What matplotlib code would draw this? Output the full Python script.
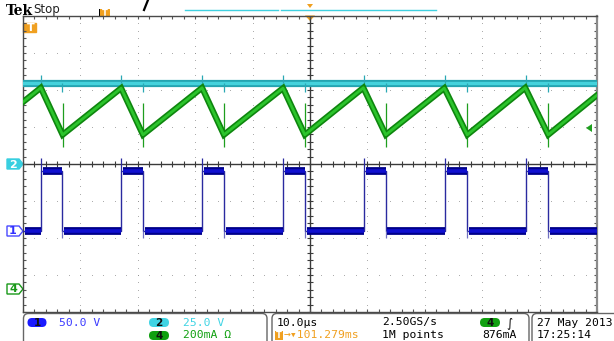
"""
Tek scope capture: switch node (CH1), input voltage (CH2), inductor current (CH4)
"""
import numpy as np
import matplotlib
matplotlib.use("Agg")
import matplotlib.pyplot as plt
from matplotlib.patches import FancyBboxPatch, Polygon, Rectangle

# channel settings: units/div and ground marker offset (div)
CH1_SCALE, CH1_OFFSET = 50.0, -1.8     # V/div
CH2_SCALE, CH2_OFFSET = 25.0, 0.0      # V/div
CH4_SCALE, CH4_OFFSET = 200.0, -3.4    # mA/div
T_SPAN_US = 50.0                       # 10 us/div, 10 div

# CH1 switch node (V)
sw_rise_us = [-46.9, -32.9, -18.8, -4.7, 9.4, 23.5, 37.6]
sw_fall_us = [-43.2, -29.1, -15.0, -0.9, 13.2, 27.4, 41.5]
sw_low_v = 0.0
sw_high_v = 80.0
sw_overshoot_v = 98.0
sw_undershoot_v = -10.0

# CH2 input voltage (V)
vin_v = 54.7
vin_spike_up_v = 60.0
vin_spike_dn_v = 48.6

# CH4 inductor current (mA)
il_t_us = [-50.0, -46.9, -43.1, -32.9, -29.1, -18.8, -15.0, -4.7, -0.9,
           9.3, 13.2, 23.4, 27.4, 37.5, 41.5, 50.0]
il_ma = [1015, 1092, 838, 1090, 838, 1092, 838, 1090, 838,
         1092, 838, 1090, 838, 1092, 838, 1052]
il_spike_hi_ma = 1012
il_spike_lo_ma = 774
trig_level_ma = 876


def to_div(val, scale, offset):
    return offset + np.asarray(val, dtype=float) / scale


def pennant(ax, x0, x1, tip, yc, h, face, edge, label, tcolor, left=False):
    """channel marker flag drawn in pixel coords"""
    if left:
        pts = [(tip, yc), (x0, yc - h / 2), (x1, yc - h / 2), (x1, yc + h / 2), (x0, yc + h / 2)]
    else:
        pts = [(x0, yc - h / 2), (x1, yc - h / 2), (tip, yc), (x1, yc + h / 2), (x0, yc + h / 2)]
    ax.add_patch(Polygon(pts, closed=True, fc=face, ec=edge, lw=1.0))
    cx = (x0 + x1) / 2 + (1.5 if left else 0)
    ax.text(cx, yc + 0.5, label, color=tcolor, fontsize=8, fontweight="bold",
            ha="center", va="center")


fig = plt.figure(figsize=(6.14, 3.41), dpi=100)
fig.patch.set_facecolor("white")

# overlay in pixel units for the scope decorations
ov = fig.add_axes([0, 0, 1, 1], zorder=0)
ov.set_xlim(0, 614)
ov.set_ylim(341, 0)
ov.axis("off")

ax = fig.add_axes([23 / 614, (341 - 312) / 341, 574 / 614, 296 / 341], zorder=1)
ax.set_facecolor("none")
ax.set_xlim(-T_SPAN_US, T_SPAN_US)
ax.set_ylim(-4, 4)

# graticule
minor_x = np.arange(-50, 50.01, 2)
minor_y = np.arange(-4, 4.01, 0.2)
for gy in [-3, -2, -1, 1, 2, 3]:
    ax.plot(minor_x, np.full_like(minor_x, gy), ls="none", marker="o", ms=0.55, mew=0,
            color="#8c8c8c", zorder=1)
for gx in [-40, -30, -20, -10, 10, 20, 30, 40]:
    ax.plot(np.full_like(minor_y, gx), minor_y, ls="none", marker="o", ms=0.55, mew=0,
            color="#8c8c8c", zorder=1)
ax.axhline(0, color="#3a3a3a", lw=1.0, zorder=1)
ax.axvline(0, color="#3a3a3a", lw=1.0, zorder=1)
ax.plot(minor_x, np.zeros_like(minor_x), ls="none", marker="|", ms=4, mew=0.8,
        color="#3a3a3a", zorder=1)
ax.plot(np.zeros_like(minor_y), minor_y, ls="none", marker="_", ms=4, mew=0.8,
        color="#3a3a3a", zorder=1)

ax.set_xticks(np.arange(-50, 51, 10))
ax.set_xticks(minor_x, minor=True)
ax.set_yticks(np.arange(-4, 5, 1))
ax.set_yticks(minor_y, minor=True)
ax.tick_params(which="both", direction="in", length=2.5, width=0.8, color="#555555",
               top=True, right=True, labelbottom=False, labelleft=False)
for side, sp in ax.spines.items():
    sp.set_color("#4a4a4a")
    sp.set_linewidth(1.0)
ax.spines["right"].set_color("#8a8a8a")
ax.spines["right"].set_linewidth(1.6)

# CH2 input voltage
vin_y = float(to_div(vin_v, CH2_SCALE, CH2_OFFSET))
ax.axhline(vin_y, color="#24a4b0", lw=5.2, zorder=3)
ax.axhline(vin_y, color="#45d2dc", lw=2.4, zorder=3)
ax.vlines(sw_fall_us, to_div(vin_spike_dn_v, CH2_SCALE, CH2_OFFSET), vin_y,
          color="#2aa8b4", lw=0.9, zorder=3)
ax.vlines(sw_rise_us, vin_y, to_div(vin_spike_up_v, CH2_SCALE, CH2_OFFSET),
          color="#2aa8b4", lw=0.9, zorder=3)

# CH4 inductor current
il_y = to_div(il_ma, CH4_SCALE, CH4_OFFSET)
ax.vlines(il_t_us[2:-1:2], to_div(il_spike_lo_ma, CH4_SCALE, CH4_OFFSET),
          to_div(il_spike_hi_ma, CH4_SCALE, CH4_OFFSET), color="#1e9e1e", lw=0.9, zorder=4)
ax.plot(il_t_us, il_y, color="#0e860e", lw=4.4, solid_joinstyle="miter", zorder=4)
ax.plot(il_t_us, il_y, color="#2cc42c", lw=2.0, zorder=4)

# CH1 switch node
lo_y = float(to_div(sw_low_v, CH1_SCALE, CH1_OFFSET))
hi_y = float(to_div(sw_high_v, CH1_SCALE, CH1_OFFSET))
sx, sy = [-T_SPAN_US], [lo_y]
for r, f in zip(sw_rise_us, sw_fall_us):
    sx += [r, r, f, f]
    sy += [lo_y, hi_y, hi_y, lo_y]
sx.append(T_SPAN_US)
sy.append(lo_y)
ax.plot(sx, sy, color="#2a2aa0", lw=1.0, zorder=5)
ax.vlines(sw_rise_us, hi_y, to_div(sw_overshoot_v, CH1_SCALE, CH1_OFFSET),
          color="#2a2aa0", lw=0.9, zorder=5)
ax.vlines(sw_fall_us, to_div(sw_undershoot_v, CH1_SCALE, CH1_OFFSET), lo_y,
          color="#7070c0", lw=0.9, zorder=5)
lo_starts = [-T_SPAN_US] + sw_fall_us
lo_ends = sw_rise_us + [T_SPAN_US]
for seg_y, xs0, xs1 in [(hi_y, sw_rise_us, sw_fall_us), (lo_y, lo_starts, lo_ends)]:
    ax.hlines(np.full(len(xs0), seg_y), np.array(xs0) + 0.3, xs1, color="#00008a", lw=5.6, zorder=5)
    ax.hlines(np.full(len(xs0), seg_y), np.array(xs0) + 0.3, xs1, color="#1010d0", lw=2.6, zorder=5)

# --- top bar ---
ov.text(6, 11, "Tek", family="DejaVu Serif", fontweight="bold", fontsize=10,
        va="center", ha="left", color="black")
ov.text(33, 10, "Stop", fontsize=8.5, va="center", ha="left", color="#222222")
ov.add_patch(Rectangle((98.5, 9), 1.5, 8, fc="black", ec="none"))
ov.add_patch(Rectangle((100, 9), 10, 8, fc="#f0a020", ec="none"))
ov.text(105, 13.2, "T", color="white", fontsize=6, fontweight="bold", ha="center", va="center")
ov.plot([148, 144], [0, 10], color="black", lw=1.6)
ov.plot([185, 278], [10, 10], color="#40d0e0", lw=1.0)
ov.plot([281, 436], [10, 10], color="#40d0e0", lw=1.0)
ov.add_patch(Polygon([(307, 4), (313, 4), (310, 8)], fc="#f0a020", ec="none"))
ov.add_patch(Polygon([(305, 15.5), (315, 15.5), (310, 21)], fc="#f0a020", ec="none", zorder=5))

# --- channel markers ---
pennant(ov, 23, 36, 23, 27.5, 9, "#f0a020", "#f0a020", "T", "white", left=True)
pennant(ov, 7, 19, 23, 164, 10, "#38cfe0", "#38cfe0", "2", "white")
pennant(ov, 7, 19, 23, 231, 10, "white", "#4a4aff", "1", "#3030ff")
pennant(ov, 7, 19, 23, 289, 10, "white", "#189818", "4", "#189818")
ov.add_patch(Polygon([(586, 128), (592, 124), (592, 132)], fc="#1ea01e", ec="none", zorder=5))

# --- bottom readout ---
for bx, bw in [(23.5, 243.5), (272, 257), (532, 90)]:
    ov.add_patch(FancyBboxPatch((bx, 313.5), bw, 35, boxstyle="round,pad=0,rounding_size=5",
                                fc="none", ec="#666666", lw=1.0))

mono = ["DejaVu Sans Mono", "DejaVu Sans"]
r1, r2 = 322.5, 335.5


def oval(x, y, w, face, label):
    ov.add_patch(FancyBboxPatch((x, y - 4.5), w, 9, boxstyle="round,pad=0,rounding_size=4.5",
                                fc=face, ec="none"))
    ov.text(x + w / 2, y + 0.3, label, fontsize=7.5, fontweight="bold", color="#111111",
            ha="center", va="center")


oval(27.5, r1, 19, "#1a1aff", "1")
ov.text(59, r1, "50.0 V", family=mono, fontsize=8.2, color="#3a3aff", va="center")
oval(149, r1, 20, "#40d4e4", "2")
ov.text(183, r1, "25.0 V", family=mono, fontsize=8.2, color="#40d4e4", va="center")
oval(149, r2, 20, "#10a010", "4")
ov.text(183, r2, "200mA Ω", family=mono, fontsize=8.2, color="#10a010", va="center")

ov.text(277, r1, "10.0µs", family=mono, fontsize=8.2, color="black", va="center")
ov.add_patch(Rectangle((275, 330.5), 8, 9.5, fc="#f0a020", ec="none"))
ov.text(279, r2 + 0.5, "T", color="white", fontsize=6, fontweight="bold", ha="center", va="center")
ov.text(284, r2, "→▾101.279ms", family=mono, fontsize=8.2, color="#f0a020", va="center")
ov.text(382, r1, "2.50GS/s", family=mono, fontsize=8.2, color="black", va="center")
ov.text(382, r2, "1M points", family=mono, fontsize=8.2, color="black", va="center")
oval(480, r1, 20, "#10a010", "4")
ov.text(509, r1, "∫", fontsize=8.5, color="black", va="center", ha="center")
ov.text(482, r2, f"{trig_level_ma}mA", family=mono, fontsize=8.2, color="black", va="center")
ov.text(537, r1, "27 May 2013", family=mono, fontsize=8.2, color="black", va="center")
ov.text(537, r2, "17:25:14", family=mono, fontsize=8.2, color="black", va="center")

fig.savefig("out.png", dpi=100)
plt.close(fig)
